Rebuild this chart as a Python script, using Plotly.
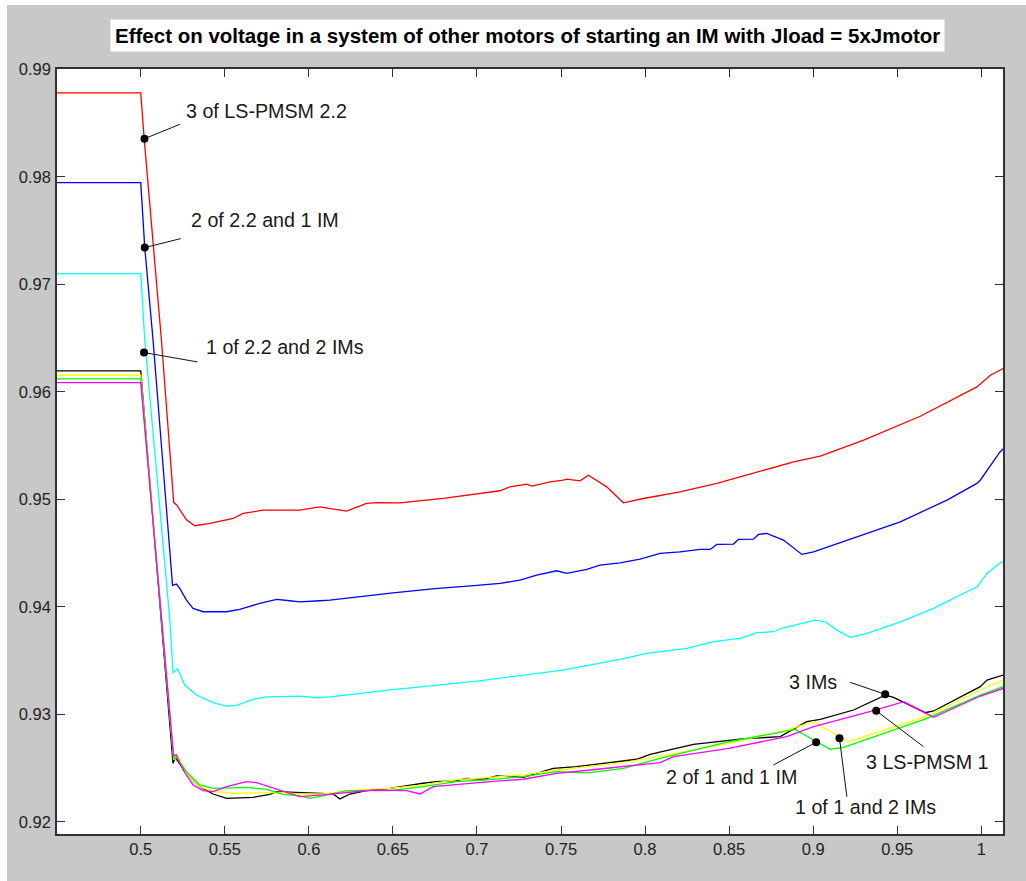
import plotly.graph_objects as go

# ---- voltage traces (p.u.) versus time (s) ----
red_x = [0.45, 0.5, 0.502, 0.5123, 0.5196, 0.5212, 0.5272, 0.5321, 0.5411, 0.5549, 0.5609, 0.5728,
         0.5946, 0.6065, 0.6224, 0.6343, 0.6403, 0.6542, 0.68, 0.70, 0.7137, 0.7196, 0.7296, 0.7326,
         0.7435, 0.7514, 0.7534, 0.7613, 0.7663, 0.7772, 0.7871, 0.799, 0.8208, 0.8427, 0.8665,
         0.8883, 0.9042, 0.930, 0.9637, 0.9974, 1.0054, 1.013]
red_y = [0.9878, 0.9878, 0.9836, 0.9648, 0.9497, 0.9495, 0.9481, 0.94755, 0.94776, 0.94822, 0.94869,
         0.9490, 0.9490, 0.9493, 0.9489, 0.94962, 0.9497, 0.94968, 0.9501, 0.9505, 0.9508, 0.95116,
         0.95141, 0.95123, 0.95163, 0.95178, 0.95188, 0.95172, 0.95225, 0.95116, 0.94968, 0.95008,
         0.9507, 0.95148, 0.95256, 0.95349, 0.95401, 0.9555, 0.95773, 0.96046, 0.96154, 0.96217]

blue_x = [0.45, 0.5, 0.50238, 0.50732, 0.5189, 0.5212, 0.5232, 0.5272, 0.5311, 0.5371, 0.551, 0.5589,
          0.5708, 0.5808, 0.5887, 0.5946, 0.6065, 0.6125, 0.65, 0.675, 0.7, 0.7137, 0.7256, 0.7355,
          0.7474, 0.7534, 0.7653, 0.7732, 0.7851, 0.797, 0.8089, 0.8208, 0.8327, 0.8387, 0.8427,
          0.8526, 0.8555, 0.8645, 0.8675, 0.8724, 0.8823, 0.8933, 0.9002, 0.922, 0.9518, 0.9796,
          0.9974, 0.9994, 1.0107, 1.013]
blue_y = [0.97945, 0.97945, 0.97341, 0.9648, 0.9420, 0.94212, 0.94172, 0.94063, 0.93986, 0.93955,
          0.93955, 0.93977, 0.94033, 0.9407, 0.94057, 0.94047, 0.94057, 0.94063, 0.9413, 0.9417,
          0.9420, 0.94218, 0.94249, 0.94296, 0.94336, 0.94311, 0.94349, 0.94388, 0.9441, 0.94444,
          0.94497, 0.94512, 0.94534, 0.94534, 0.94581, 0.94584, 0.94627, 0.9463, 0.94674, 0.94683,
          0.94621, 0.94488, 0.94512, 0.94627, 0.94791, 0.94993, 0.95148, 0.95178, 0.95432, 0.9547]

cyan_x = [0.45, 0.5, 0.5024, 0.5173, 0.5192, 0.5218, 0.5262, 0.5331, 0.543, 0.551, 0.5569, 0.5668,
          0.5748, 0.5946, 0.6046, 0.6125, 0.65, 0.7, 0.75, 0.7851, 0.801, 0.8248, 0.8407, 0.8565,
          0.8665, 0.8764, 0.8823, 0.8923, 0.9012, 0.9071, 0.9141, 0.922, 0.932, 0.9518, 0.9716,
          0.9974, 1.0034, 1.0107, 1.013]
cyan_y = [0.97099, 0.97099, 0.9648, 0.93877, 0.93388, 0.93425, 0.93273, 0.9318, 0.93109, 0.93078,
          0.93084, 0.9314, 0.93164, 0.9317, 0.93155, 0.93164, 0.9323, 0.9331, 0.9341, 0.93512,
          0.93568, 0.93614, 0.93676, 0.93707, 0.9376, 0.93769, 0.93806, 0.93847, 0.93877, 0.93861,
          0.93784, 0.93716, 0.93754, 0.93861, 0.93986, 0.94187, 0.94311, 0.94404, 0.9442]

black_x = [0.45, 0.5, 0.5192, 0.5205, 0.5272, 0.5351, 0.543, 0.551, 0.5669, 0.5768, 0.5808, 0.5907,
           0.6145, 0.6185, 0.6244, 0.6343, 0.6482, 0.668, 0.676, 0.6879, 0.6939, 0.7038, 0.7117,
           0.7276, 0.7375, 0.7454, 0.7593, 0.7713, 0.7832, 0.7951, 0.803, 0.8288, 0.8565, 0.8804,
           0.8962, 0.9042, 0.924, 0.9429, 0.9478, 0.9667, 0.9716, 0.9994, 1.0034, 1.013]
black_y = [0.96194, 0.96194, 0.92545, 0.9260, 0.92452, 0.92328, 0.9226, 0.9222, 0.92229, 0.92257,
           0.92282, 0.92276, 0.9226, 0.92214, 0.9226, 0.92291, 0.92313, 0.9236, 0.92375, 0.92384,
           0.92406, 0.92397, 0.92428, 0.92415, 0.92458, 0.92499, 0.92514, 0.92539, 0.9256, 0.92583,
           0.92629, 0.92722, 0.92771, 0.92793, 0.92932, 0.92954, 0.93041, 0.9318, 0.93159, 0.93016,
           0.93032, 0.93258, 0.9332, 0.93366]

yellow_x = [0.45, 0.5, 0.5196, 0.5218, 0.5272, 0.5351, 0.543, 0.555, 0.5748, 0.5827, 0.5946, 0.6085,
            0.6284, 0.6482, 0.668, 0.6879, 0.7077, 0.7276, 0.7474, 0.7673, 0.7871, 0.8089, 0.8498,
            0.8843, 0.9002, 0.921, 0.9677, 0.9994, 1.013]
yellow_y = [0.96154, 0.96154, 0.9258, 0.92623, 0.92452, 0.92328, 0.92282, 0.92267, 0.92272, 0.92276,
            0.9226, 0.9226, 0.92297, 0.92313, 0.92345, 0.92393, 0.92415, 0.92437, 0.92483, 0.92514,
            0.92551, 0.92613, 0.92731, 0.92855, 0.92932, 0.92746, 0.92985, 0.93227, 0.9332]

green_x = [0.45, 0.5, 0.5196, 0.5202, 0.5272, 0.5351, 0.543, 0.5629, 0.5748, 0.5847, 0.5946, 0.6006,
           0.6085, 0.6224, 0.6482, 0.668, 0.6879, 0.7077, 0.7276, 0.7474, 0.7593, 0.7673, 0.7871,
           0.8089, 0.8498, 0.8893, 0.9002, 0.9101, 0.918, 0.9677, 0.9994, 1.013]
green_y = [0.9612, 0.9612, 0.9259, 0.92623, 0.92467, 0.92344, 0.92313, 0.92322, 0.92304, 0.92257,
           0.92242, 0.9222, 0.92242, 0.92291, 0.92291, 0.92328, 0.92375, 0.92393, 0.92421, 0.92468,
           0.92458, 0.92458, 0.92499, 0.92591, 0.92746, 0.92861, 0.92762, 0.92676, 0.92694, 0.92964,
           0.9318, 0.93258]

magenta_x = [0.45, 0.5, 0.5195, 0.5212, 0.5252, 0.5311, 0.5371, 0.543, 0.551, 0.5629, 0.5688, 0.5808,
             0.5887, 0.5946, 0.6085, 0.6383, 0.6581, 0.6661, 0.674, 0.6879, 0.7077, 0.7276, 0.7474,
             0.7673, 0.7871, 0.8089, 0.8169, 0.8498, 0.8843, 0.9002, 0.9369, 0.9538, 0.9716, 0.9994,
             1.013]
magenta_y = [0.96086, 0.96086, 0.9262, 0.92623, 0.92483, 0.92344, 0.92291, 0.92282, 0.92328, 0.92375,
             0.92365, 0.92304, 0.9226, 0.92235, 0.92251, 0.92297, 0.92291, 0.9226, 0.92328, 0.9235,
             0.92375, 0.92397, 0.92452, 0.92483, 0.92514, 0.92551, 0.92607, 0.92685, 0.92793,
             0.92886, 0.93041, 0.93118, 0.92973, 0.93171, 0.93242]

# ---- axis ticks ----
x_ticks = [0.5, 0.55, 0.6, 0.65, 0.7, 0.75, 0.8, 0.85, 0.9, 0.95, 1.0]
x_tick_text = ["0.5", "0.55", "0.6", "0.65", "0.7", "0.75", "0.8", "0.85", "0.9", "0.95", "1"]
y_ticks = [0.92, 0.93, 0.94, 0.95, 0.96, 0.97, 0.98, 0.99]
y_tick_text = ["0.92", "0.93", "0.94", "0.95", "0.96", "0.97", "0.98", "0.99"]

# ---- callout labels: text, dot on curve, end of leader line, text anchor point ----
label_text = ["3 of LS-PMSM 2.2", "2 of 2.2 and 1 IM", "1 of 2.2 and 2 IMs", "3 IMs",
              "3 LS-PMSM 1", "2 of 1 and 1 IM", "1 of 1 and 2 IMs"]
label_dot_x = [0.5022, 0.50238, 0.50196, 0.94286, 0.9375, 0.90179, 0.91565]
label_dot_y = [0.98354, 0.97341, 0.96365, 0.93187, 0.93034, 0.92741, 0.92778]
label_end_x = [0.52321, 0.52381, 0.53375, 0.92202, 0.96565, 0.87637, 0.92004]
label_end_y = [0.98487, 0.97425, 0.96278, 0.93298, 0.92700, 0.92530, 0.92235]
label_txt_x = [0.5256, 0.52875, 0.5375, 0.91548, 0.93036, 0.81131, 0.88827]
label_txt_y = [0.98608, 0.97598, 0.96421, 0.93303, 0.92560, 0.92414, 0.92142]
label_anchor = ["left", "left", "left", "right", "left", "left", "left"]

series = [
    (red_x, red_y, "#ff0000"),
    (blue_x, blue_y, "#0000ff"),
    (cyan_x, cyan_y, "#00ffff"),
    (black_x, black_y, "#000000"),
    (yellow_x, yellow_y, "#ffff00"),
    (green_x, green_y, "#00ff00"),
    (magenta_x, magenta_y, "#ff00ff"),
]

fig = go.Figure()
for xs, ys, col in series:
    fig.add_trace(go.Scatter(x=xs, y=ys, mode="lines",
                             line=dict(color=col, width=1.3),
                             showlegend=False, hoverinfo="skip"))

# leader lines
for i in range(len(label_text)):
    fig.add_trace(go.Scatter(x=[label_dot_x[i], label_end_x[i]],
                             y=[label_dot_y[i], label_end_y[i]],
                             mode="lines", line=dict(color="#111111", width=1),
                             showlegend=False, hoverinfo="skip"))
# dots
fig.add_trace(go.Scatter(x=label_dot_x, y=label_dot_y, mode="markers",
                         marker=dict(color="#000000", size=8),
                         showlegend=False, hoverinfo="skip"))

annotations = []
for i, t in enumerate(label_text):
    annotations.append(dict(x=label_txt_x[i], y=label_txt_y[i], xref="x", yref="y",
                            text=t, showarrow=False, xanchor=label_anchor[i], yanchor="middle",
                            font=dict(family="Liberation Sans, Arial, sans-serif", size=19.7,
                                      color="#1a1a1a")))

annotations.append(dict(
    x=0.4974, y=1.0436, xref="paper", yref="paper", showarrow=False,
    text="<b>Effect on voltage in a system of other motors of starting an IM with Jload = 5xJmotor</b>",
    xanchor="center", yanchor="middle", bgcolor="#ffffff", borderpad=4,
    font=dict(family="Liberation Sans, Arial, sans-serif", size=20.5, color="#000000")))

axis_common = dict(showgrid=False, zeroline=False, showline=True, linecolor="#333333",
                   linewidth=1.5, mirror="ticks", ticks="inside", ticklen=8,
                   tickcolor="#333333", tickwidth=1.3,
                   tickfont=dict(family="Liberation Sans, Arial, sans-serif", size=16.5,
                                 color="#222222"))

fig.update_layout(
    width=1026, height=881,
    margin=dict(l=57, r=23, t=69, b=47),
    paper_bgcolor="#c8c8c8",
    plot_bgcolor="#ffffff",
    xaxis=dict(range=[0.45018, 1.01292], tickvals=x_ticks, ticktext=x_tick_text,
               ticklabelstandoff=-1, **axis_common),
    yaxis=dict(range=[0.91888, 0.99002], tickvals=y_ticks, ticktext=y_tick_text,
               ticklabelstandoff=1, **axis_common),
    annotations=annotations,
    shapes=[
        dict(type="rect", xref="paper", yref="paper", x0=-0.2, x1=1.2, y0=1.0837, y1=1.2,
             fillcolor="#ffffff", line=dict(width=0), layer="above"),
        dict(type="rect", xref="paper", yref="paper", x0=-0.2, x1=-0.0529, y0=-0.2, y1=1.2,
             fillcolor="#ffffff", line=dict(width=0), layer="above"),
    ],
)

fig.write_html("out.html")
